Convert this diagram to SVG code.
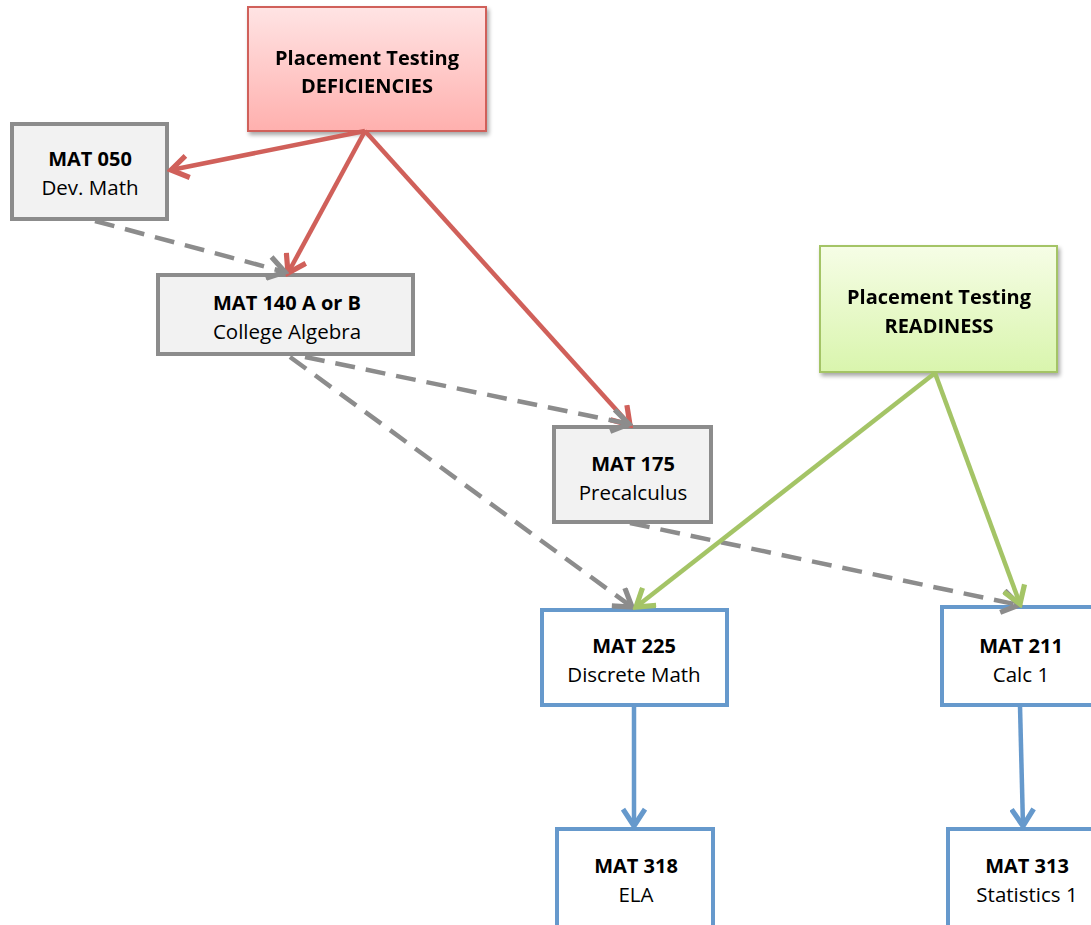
<svg xmlns="http://www.w3.org/2000/svg" width="1091" height="925" viewBox="0 0 1091 925">
<style>
text{font-family:"Open Sans","Liberation Sans",sans-serif;font-size:20.5px;fill:#000;text-anchor:middle}
.b{font-weight:bold;font-size:20px}
.gray{fill:#f2f2f2;stroke:#8c8c8c;stroke-width:4}
.blue{fill:#fff;stroke:#6699cc;stroke-width:4}
.c{fill:none;stroke-width:4.5;stroke-linecap:butt}
.red{stroke:#d0605a}
.gr{stroke:#8c8c8c;stroke-dasharray:20 11}
.grn{stroke:#a4c466}
.bl{stroke:#6699cc}
</style>
<defs>
<linearGradient id="pink" x1="0" y1="0" x2="0" y2="1"><stop offset="0" stop-color="#ffe4e4"/><stop offset="1" stop-color="#ffb0ae"/></linearGradient>
<linearGradient id="green" x1="0" y1="0" x2="0" y2="1"><stop offset="0" stop-color="#f6fde6"/><stop offset="1" stop-color="#d9f5ad"/></linearGradient>
<filter id="sh" x="-10%" y="-10%" width="130%" height="130%"><feGaussianBlur in="SourceAlpha" stdDeviation="2"/><feOffset dx="2" dy="3"/><feComponentTransfer><feFuncA type="linear" slope="0.35"/></feComponentTransfer><feMerge><feMergeNode/><feMergeNode in="SourceGraphic"/></feMerge></filter>
<marker id="mr" markerUnits="userSpaceOnUse" markerWidth="26" markerHeight="26" refX="17" refY="10" orient="auto" viewBox="0 0 20 20"><path d="M4,1.5 L17,10 L4,18.5" fill="none" stroke="#d0605a" stroke-width="4"/></marker>
<marker id="mg" markerUnits="userSpaceOnUse" markerWidth="26" markerHeight="26" refX="17" refY="10" orient="auto" viewBox="0 0 20 20"><path d="M4,1.5 L17,10 L4,18.5" fill="none" stroke="#8c8c8c" stroke-width="4"/></marker>
<marker id="mn" markerUnits="userSpaceOnUse" markerWidth="26" markerHeight="26" refX="17" refY="10" orient="auto" viewBox="0 0 20 20"><path d="M4,1.5 L17,10 L4,18.5" fill="none" stroke="#a4c466" stroke-width="4"/></marker>
<marker id="mb" markerUnits="userSpaceOnUse" markerWidth="26" markerHeight="26" refX="17" refY="10" orient="auto" viewBox="0 0 20 20"><path d="M4,1.5 L17,10 L4,18.5" fill="none" stroke="#6699cc" stroke-width="4"/></marker>
</defs>
<g id="pt-def" filter="url(#sh)"><rect x="248" y="7" width="238" height="124" fill="url(#pink)" stroke="#d0605a" stroke-width="2"/>
<text class="b" x="367" y="65">Placement Testing</text><text class="b" x="367" y="93">DEFICIENCIES</text></g>
<g id="pt-ready" filter="url(#sh)"><rect x="820" y="246" width="237" height="126" fill="url(#green)" stroke="#a4c466" stroke-width="2"/>
<text class="b" x="939" y="304">Placement Testing</text><text class="b" x="939" y="333">READINESS</text></g>
<g id="mat050"><rect class="gray" x="12" y="124" width="155" height="95"/><text class="b" x="90" y="166">MAT 050</text><text x="90" y="195">Dev. Math</text></g>
<g id="mat140"><rect class="gray" x="158" y="275" width="255" height="79"/><text class="b" x="287" y="310">MAT 140 A or B</text><text x="287" y="339">College Algebra</text></g>
<g id="mat175"><rect class="gray" x="554" y="427" width="157" height="95"/><text class="b" x="633" y="471">MAT 175</text><text x="633" y="500">Precalculus</text></g>
<g id="mat225"><rect class="blue" x="542" y="610" width="185" height="95"/><text class="b" x="634" y="653">MAT 225</text><text x="634" y="682">Discrete Math</text></g>
<g id="mat211"><rect class="blue" x="942" y="607" width="160" height="98"/><text class="b" x="1021" y="653">MAT 211</text><text x="1021" y="682">Calc 1</text></g>
<g id="mat318"><rect class="blue" x="557" y="829" width="156" height="110"/><text class="b" x="636" y="873">MAT 318</text><text x="636" y="902">ELA</text></g>
<g id="mat313"><rect class="blue" x="948" y="829" width="160" height="110"/><text class="b" x="1027" y="873">MAT 313</text><text x="1027" y="902">Statistics 1</text></g>
<g id="connectors">
<line class="c red" x1="365" y1="131" x2="171" y2="170" marker-end="url(#mr)"/>
<line class="c red" x1="365" y1="131" x2="288" y2="273" marker-end="url(#mr)"/>
<line class="c red" x1="365" y1="131" x2="630" y2="425" marker-end="url(#mr)"/>
<line class="c gr" x1="95" y1="221" x2="285" y2="272" marker-end="url(#mg)"/>
<line class="c gr" x1="305" y1="357" x2="629" y2="424" marker-end="url(#mg)"/>
<line class="c gr" x1="290" y1="357" x2="632" y2="607" marker-end="url(#mg)"/>
<line class="c gr" x1="630" y1="523" x2="1019" y2="605" marker-end="url(#mg)"/>
<line class="c grn" x1="935" y1="373" x2="636" y2="607" marker-end="url(#mn)"/>
<line class="c grn" x1="935" y1="373" x2="1020" y2="604" marker-end="url(#mn)"/>
<line class="c bl" x1="634" y1="706" x2="634" y2="826" marker-end="url(#mb)"/>
<line class="c bl" x1="1020" y1="706" x2="1023" y2="826" marker-end="url(#mb)"/>
</g>
</svg>
